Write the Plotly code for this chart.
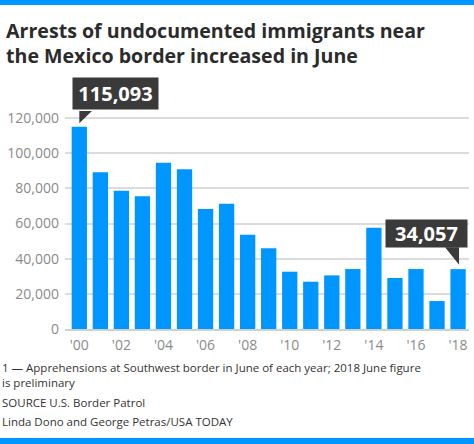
import plotly.graph_objects as go

years = list(range(2000, 2019))
arrests = [115093, 89100, 78700, 75500, 94600, 90800, 68300, 71300, 53600, 45900,
           32600, 26900, 30500, 34100, 57600, 29000, 34100, 15900, 34057]
tick_years = list(range(2000, 2019, 2))
tick_labels = ["'00", "'02", "'04", "'06", "'08", "'10", "'12", "'14", "'16", "'18"]
y_ticks = [0, 20000, 40000, 60000, 80000, 100000, 120000]
y_tick_labels = ["0", "20,000", "40,000", "60,000", "80,000", "100,000", "120,000"]

title = "Arrests of undocumented immigrants near<br>the Mexico border increased in June"
note = "1 — Apprehensions at Southwest border in June of each year; 2018 June figure<br>is preliminary"
source = "SOURCE U.S. Border Patrol"
credit = "Linda Dono and George Petras/USA TODAY"

W, H = 474, 444
L, R, T, B = 65, 5, 111, 115
PW, PH = W - L - R, H - T - B
BLUE = "#0096ff"
DARK = "#3a3a3a"
FONT = "Open Sans"


def px_x(x):
    return (x - L) / PW


def px_y(y):
    return (H - B - y) / PH


fig = go.Figure()
fig.add_trace(go.Bar(x=years, y=arrests, marker=dict(color=BLUE, line=dict(width=0)),
                     hoverinfo="skip"))

fig.update_layout(
    width=W, height=H,
    margin=dict(l=L, r=R, t=T, b=B),
    paper_bgcolor="white", plot_bgcolor="white",
    bargap=0.273,
    showlegend=False,
    font=dict(family=FONT, color="#333"),
    xaxis=dict(range=[1999.32, 2018.52], tickvals=tick_years, ticktext=tick_labels,
               showgrid=False, zeroline=False, showline=True, linecolor="#d0d0d0", linewidth=1.5,
               ticks="", tickfont=dict(size=14, color="#8a8a8a", family=FONT), ticklabelstandoff=2),
    yaxis=dict(range=[0, 124000], tickvals=y_ticks, ticktext=y_tick_labels,
               showgrid=True, gridcolor="#dcdcdc", gridwidth=1.5, zeroline=False,
               ticks="", tickfont=dict(size=14, color="#8a8a8a", family=FONT), ticklabelstandoff=5),
)

# header/footer bands
fig.add_shape(type="rect", xref="paper", yref="paper", x0=-0.2, x1=1.1,
              y0=(H - B - 5) / PH, y1=(H - B + 2) / PH,
              fillcolor=BLUE, line=dict(width=0), layer="above")
fig.add_shape(type="rect", xref="paper", yref="paper", x0=-0.2, x1=1.1,
              y0=(H - B - H - 2) / PH, y1=(H - B - 438) / PH,
              fillcolor=BLUE, line=dict(width=0), layer="above")

# callouts
fig.add_annotation(x=years[0], y=arrests[0], xref="x", yref="y", text="<b>115,093</b>",
                   showarrow=False, xanchor="left", yanchor="bottom", xshift=-7.6, yshift=16.5,
                   bgcolor=DARK, width=85, height=31, borderpad=0,
                   font=dict(size=20, color="white", family=FONT))
fig.add_shape(type="path", xref="x", yref="y", xsizemode="pixel", ysizemode="pixel",
              xanchor=years[0], yanchor=arrests[0],
              path="M 0,3.5 L 0,17 L 14,17 Z", fillcolor=DARK, line=dict(width=0))

fig.add_annotation(x=years[-1], y=arrests[-1], xref="x", yref="y", text="<b>34,057</b>",
                   showarrow=False, xanchor="right", yanchor="bottom", xshift=10.3, yshift=21.4,
                   bgcolor=DARK, width=81, height=27, borderpad=0,
                   font=dict(size=20, color="white", family=FONT))
fig.add_shape(type="path", xref="x", yref="y", xsizemode="pixel", ysizemode="pixel",
              xanchor=years[-1], yanchor=arrests[-1],
              path="M 1,4.5 L 1,22 L -13,22 Z", fillcolor=DARK, line=dict(width=0))

# title
fig.add_annotation(xref="paper", yref="paper", x=px_x(4), y=px_y(15), xanchor="left", yanchor="top",
                   text="<b>" + title + "</b>", showarrow=False, align="left",
                   font=dict(size=19.6, color="#2b2b2b", family=FONT))

# footnotes
for txt, ytop in [(note, 358), (source, 393), (credit, 412)]:
    fig.add_annotation(xref="paper", yref="paper", x=px_x(0), y=px_y(ytop), xanchor="left", yanchor="top",
                       text=txt, showarrow=False, align="left",
                       font=dict(size=11.5, color="#333", family=FONT))

fig.write_html("out.html", config={"displayModeBar": False},
               post_script="document.body.style.margin='0';")
